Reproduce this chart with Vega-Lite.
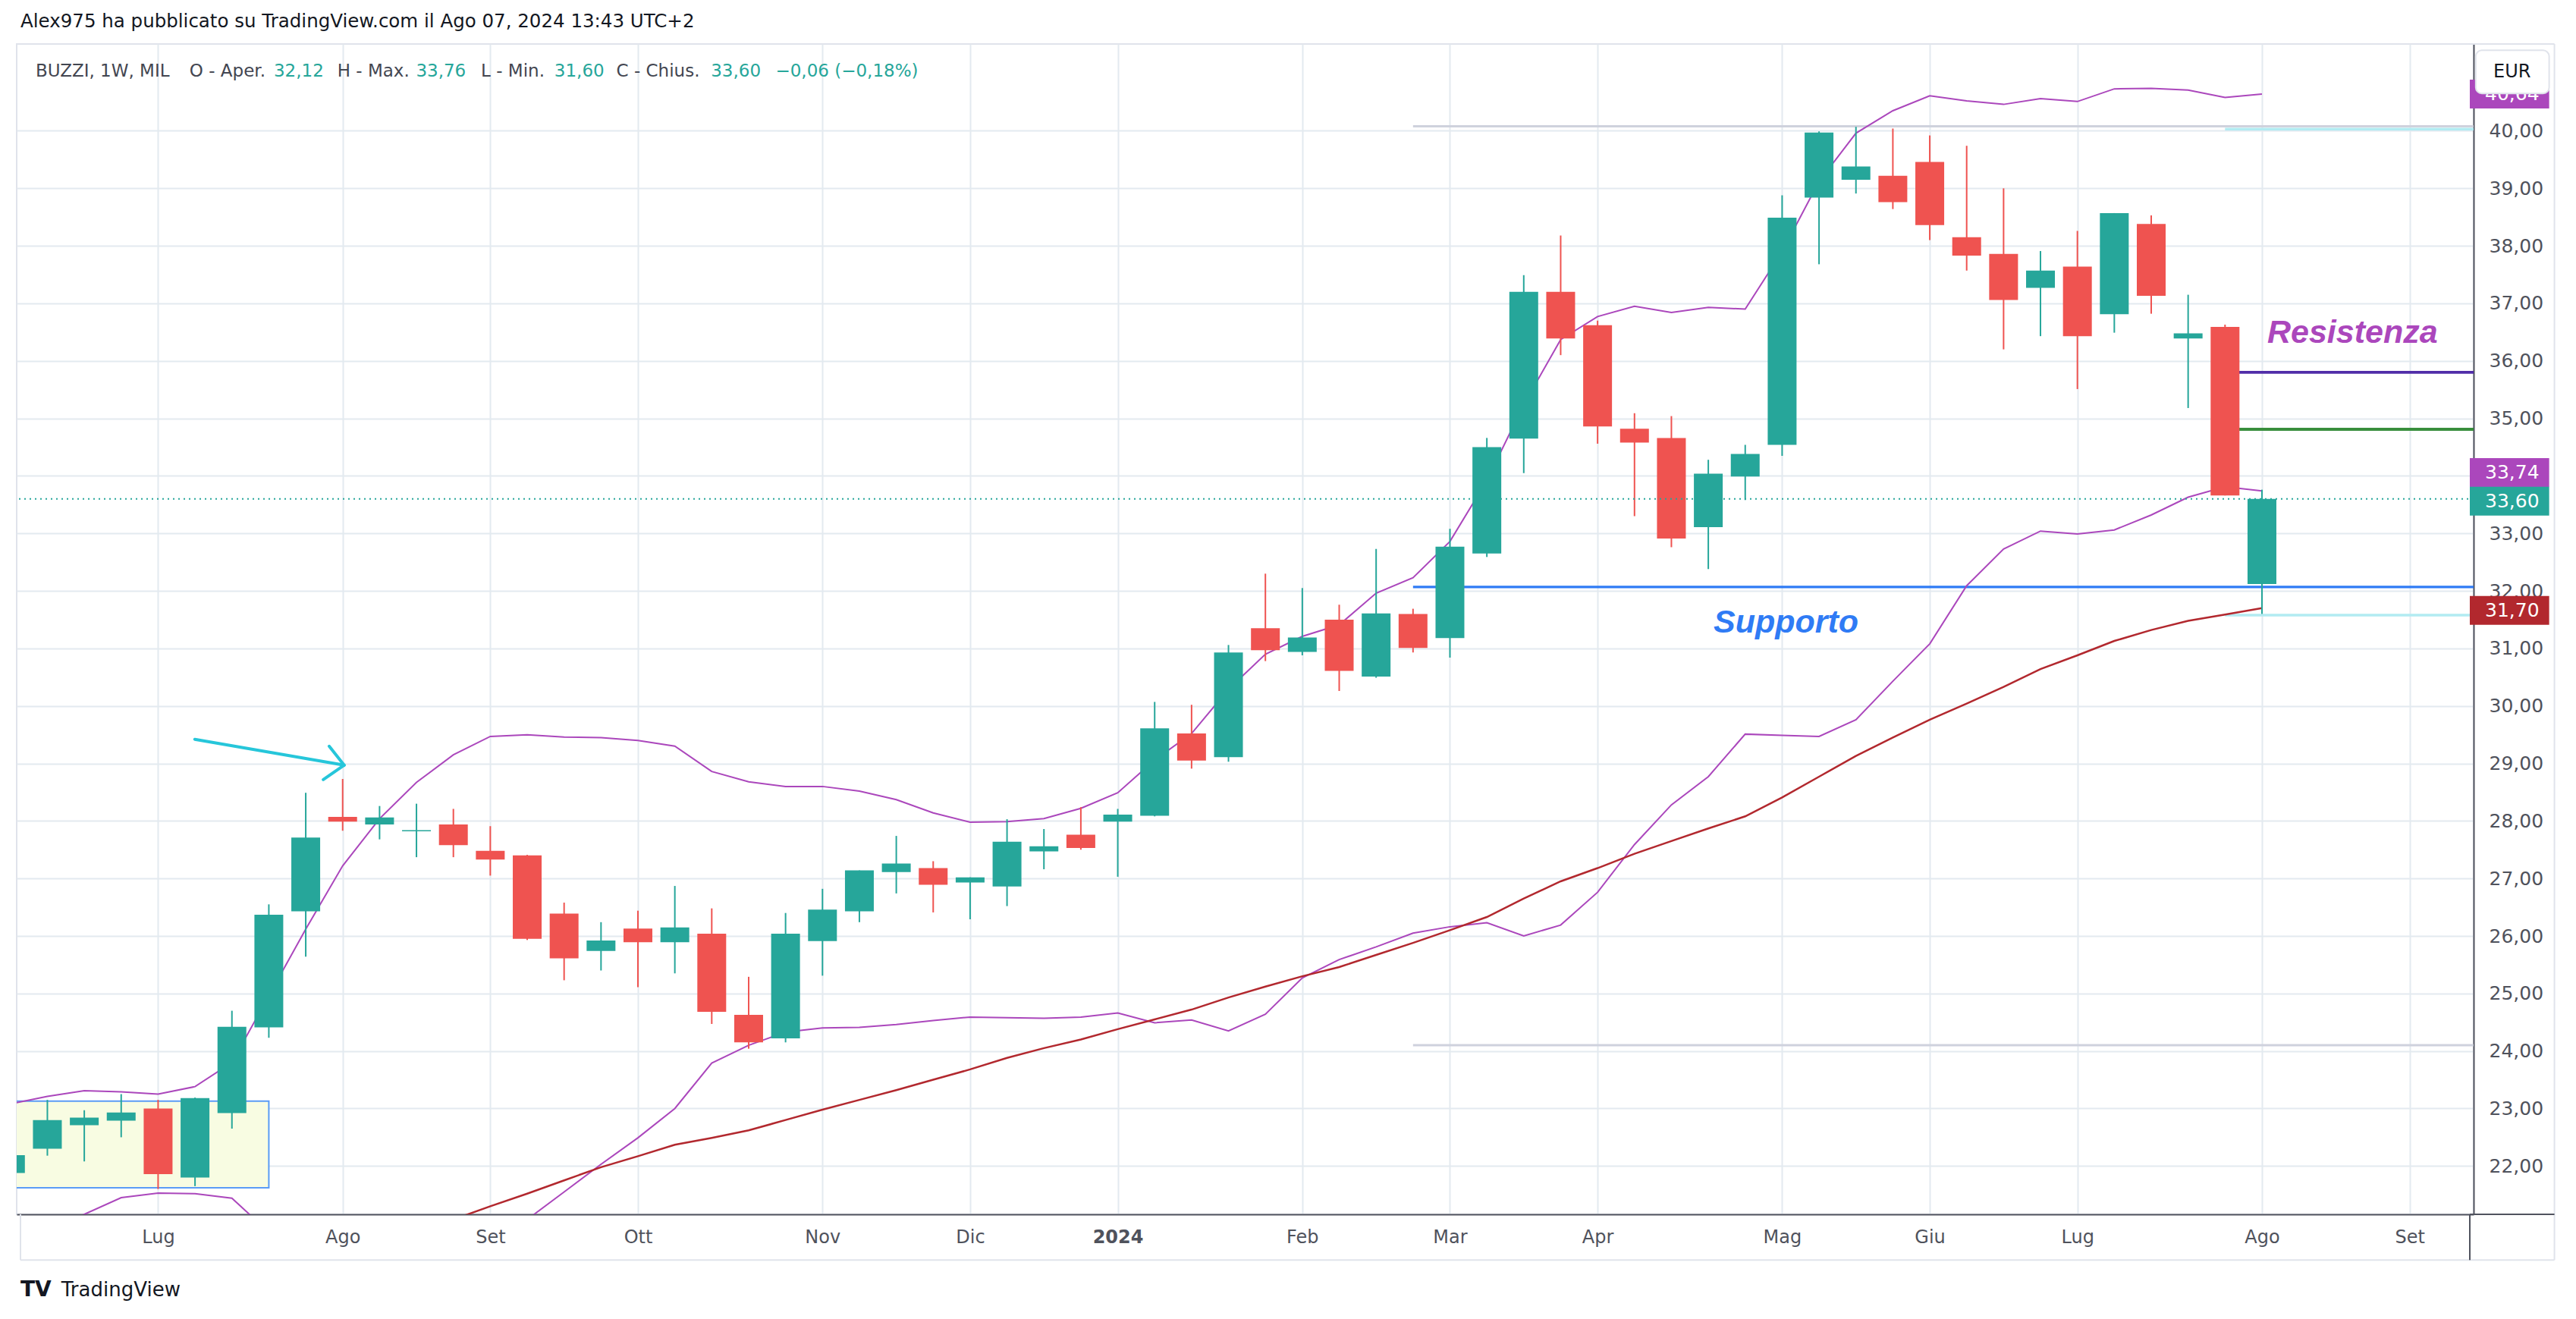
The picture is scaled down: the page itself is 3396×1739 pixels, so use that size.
{
  "$schema": "https://vega.github.io/schema/vega-lite/v6.json",
  "width": 3239,
  "height": 1543,
  "autosize": {"type": "none"},
  "padding": {"left": 22, "top": 58, "right": 135, "bottom": 138},
  "background": "#FFFFFF",
  "config": {
    "view": {"stroke": "#E0E3EB", "strokeWidth": 2},
    "font": "DejaVu Sans",
    "axis": {"grid": true, "gridColor": "#E3EAF0", "gridWidth": 2, "ticks": false, "domainColor": "#50535E", "domainWidth": 2, "labelFont": "DejaVu Sans", "labelColor": "#4F525C", "labelOverlap": false, "labelFlush": false, "labelBound": false}
  },
  "resolve": {"scale": {"color": "independent", "strokeWidth": "independent"}, "axis": {"x": "independent", "y": "independent"}},
  "datasets": {
    "candles": [
      {"date": "2023-06-05", "open": 21.88, "high": 22.25, "low": 21.80, "close": 22.19},
      {"date": "2023-06-12", "open": 22.30, "high": 23.15, "low": 22.18, "close": 22.80},
      {"date": "2023-06-19", "open": 22.71, "high": 22.97, "low": 22.08, "close": 22.84},
      {"date": "2023-06-26", "open": 22.79, "high": 23.25, "low": 22.50, "close": 22.93},
      {"date": "2023-07-03", "open": 23.00, "high": 23.15, "low": 21.60, "close": 21.86},
      {"date": "2023-07-10", "open": 21.80, "high": 23.19, "low": 21.65, "close": 23.18},
      {"date": "2023-07-17", "open": 22.92, "high": 24.70, "low": 22.65, "close": 24.42},
      {"date": "2023-07-24", "open": 24.41, "high": 26.55, "low": 24.23, "close": 26.37},
      {"date": "2023-07-31", "open": 26.43, "high": 28.49, "low": 25.64, "close": 27.71},
      {"date": "2023-08-07", "open": 28.07, "high": 28.73, "low": 27.83, "close": 27.99},
      {"date": "2023-08-14", "open": 27.94, "high": 28.26, "low": 27.68, "close": 28.06},
      {"date": "2023-08-21", "open": 27.82, "high": 28.30, "low": 27.37, "close": 27.84},
      {"date": "2023-08-28", "open": 27.94, "high": 28.21, "low": 27.37, "close": 27.58},
      {"date": "2023-09-04", "open": 27.48, "high": 27.91, "low": 27.05, "close": 27.33},
      {"date": "2023-09-11", "open": 27.40, "high": 27.41, "low": 25.93, "close": 25.95},
      {"date": "2023-09-18", "open": 26.39, "high": 26.58, "low": 25.23, "close": 25.61},
      {"date": "2023-09-25", "open": 25.74, "high": 26.24, "low": 25.40, "close": 25.92},
      {"date": "2023-10-02", "open": 26.13, "high": 26.44, "low": 25.11, "close": 25.89},
      {"date": "2023-10-09", "open": 25.89, "high": 26.87, "low": 25.35, "close": 26.15},
      {"date": "2023-10-16", "open": 26.04, "high": 26.48, "low": 24.47, "close": 24.68},
      {"date": "2023-10-23", "open": 24.63, "high": 25.29, "low": 24.04, "close": 24.15},
      {"date": "2023-10-30", "open": 24.22, "high": 26.40, "low": 24.15, "close": 26.04},
      {"date": "2023-11-06", "open": 25.91, "high": 26.82, "low": 25.31, "close": 26.46},
      {"date": "2023-11-13", "open": 26.43, "high": 27.14, "low": 26.24, "close": 27.14},
      {"date": "2023-11-20", "open": 27.11, "high": 27.74, "low": 26.74, "close": 27.26},
      {"date": "2023-11-27", "open": 27.18, "high": 27.30, "low": 26.41, "close": 26.89},
      {"date": "2023-12-04", "open": 26.93, "high": 27.02, "low": 26.29, "close": 27.02},
      {"date": "2023-12-11", "open": 26.86, "high": 28.03, "low": 26.52, "close": 27.64},
      {"date": "2023-12-18", "open": 27.47, "high": 27.86, "low": 27.16, "close": 27.56},
      {"date": "2023-12-25", "open": 27.76, "high": 28.24, "low": 27.50, "close": 27.53},
      {"date": "2024-01-01", "open": 27.99, "high": 28.21, "low": 27.03, "close": 28.11},
      {"date": "2024-01-08", "open": 28.09, "high": 30.07, "low": 28.08, "close": 29.61},
      {"date": "2024-01-15", "open": 29.52, "high": 30.02, "low": 28.91, "close": 29.05},
      {"date": "2024-01-22", "open": 29.11, "high": 31.06, "low": 29.03, "close": 30.93},
      {"date": "2024-01-29", "open": 31.35, "high": 32.30, "low": 30.78, "close": 30.97},
      {"date": "2024-02-05", "open": 30.94, "high": 32.05, "low": 30.88, "close": 31.19},
      {"date": "2024-02-12", "open": 31.50, "high": 31.76, "low": 30.26, "close": 30.61},
      {"date": "2024-02-19", "open": 30.51, "high": 32.73, "low": 30.49, "close": 31.61},
      {"date": "2024-02-26", "open": 31.60, "high": 31.69, "low": 30.93, "close": 31.01},
      {"date": "2024-03-04", "open": 31.18, "high": 33.08, "low": 30.84, "close": 32.77},
      {"date": "2024-03-11", "open": 32.65, "high": 34.66, "low": 32.59, "close": 34.50},
      {"date": "2024-03-18", "open": 34.65, "high": 37.49, "low": 34.05, "close": 37.20},
      {"date": "2024-03-25", "open": 37.20, "high": 38.18, "low": 36.10, "close": 36.39},
      {"date": "2024-04-01", "open": 36.62, "high": 36.70, "low": 34.56, "close": 34.86},
      {"date": "2024-04-08", "open": 34.82, "high": 35.09, "low": 33.30, "close": 34.58},
      {"date": "2024-04-15", "open": 34.66, "high": 35.04, "low": 32.76, "close": 32.91},
      {"date": "2024-04-22", "open": 33.11, "high": 34.28, "low": 32.38, "close": 34.04},
      {"date": "2024-04-29", "open": 33.99, "high": 34.54, "low": 33.58, "close": 34.38},
      {"date": "2024-05-06", "open": 34.54, "high": 38.88, "low": 34.35, "close": 38.49},
      {"date": "2024-05-13", "open": 38.84, "high": 39.99, "low": 37.68, "close": 39.97},
      {"date": "2024-05-20", "open": 39.15, "high": 40.07, "low": 38.91, "close": 39.38},
      {"date": "2024-05-27", "open": 39.22, "high": 40.04, "low": 38.64, "close": 38.76},
      {"date": "2024-06-03", "open": 39.46, "high": 39.92, "low": 38.10, "close": 38.36},
      {"date": "2024-06-10", "open": 38.15, "high": 39.74, "low": 37.57, "close": 37.83},
      {"date": "2024-06-17", "open": 37.86, "high": 39.00, "low": 36.20, "close": 37.06},
      {"date": "2024-06-24", "open": 37.27, "high": 37.91, "low": 36.43, "close": 37.57},
      {"date": "2024-07-01", "open": 37.64, "high": 38.26, "low": 35.51, "close": 36.43},
      {"date": "2024-07-08", "open": 36.81, "high": 38.57, "low": 36.49, "close": 38.57},
      {"date": "2024-07-15", "open": 38.38, "high": 38.53, "low": 36.82, "close": 37.13},
      {"date": "2024-07-22", "open": 36.39, "high": 37.15, "low": 35.18, "close": 36.48},
      {"date": "2024-07-29", "open": 36.59, "high": 36.63, "low": 33.66, "close": 33.66},
      {"date": "2024-08-05", "open": 32.12, "high": 33.76, "low": 31.60, "close": 33.60}
    ],
    "bands": [
      {"date": "2023-06-05", "upper": 23.08, "lower": 20.60, "ma": null},
      {"date": "2023-06-12", "upper": 23.21, "lower": 20.88, "ma": null},
      {"date": "2023-06-19", "upper": 23.31, "lower": 21.16, "ma": null},
      {"date": "2023-06-26", "upper": 23.29, "lower": 21.45, "ma": null},
      {"date": "2023-07-03", "upper": 23.25, "lower": 21.53, "ma": null},
      {"date": "2023-07-10", "upper": 23.38, "lower": 21.52, "ma": null},
      {"date": "2023-07-17", "upper": 23.80, "lower": 21.44, "ma": null},
      {"date": "2023-07-24", "upper": 24.96, "lower": 20.85, "ma": null},
      {"date": "2023-07-31", "upper": 26.12, "lower": 20.40, "ma": null},
      {"date": "2023-08-07", "upper": 27.22, "lower": 20.00, "ma": 20.40},
      {"date": "2023-08-14", "upper": 28.04, "lower": 19.80, "ma": 20.60},
      {"date": "2023-08-21", "upper": 28.67, "lower": 19.80, "ma": 20.84},
      {"date": "2023-08-28", "upper": 29.15, "lower": 20.00, "ma": 21.07},
      {"date": "2023-09-04", "upper": 29.47, "lower": 20.50, "ma": 21.30},
      {"date": "2023-09-11", "upper": 29.50, "lower": 21.07, "ma": 21.52},
      {"date": "2023-09-18", "upper": 29.46, "lower": 21.55, "ma": 21.75},
      {"date": "2023-09-25", "upper": 29.45, "lower": 22.03, "ma": 21.98},
      {"date": "2023-10-02", "upper": 29.40, "lower": 22.49, "ma": 22.17},
      {"date": "2023-10-09", "upper": 29.30, "lower": 23.00, "ma": 22.37},
      {"date": "2023-10-16", "upper": 28.86, "lower": 23.79, "ma": 22.49},
      {"date": "2023-10-23", "upper": 28.68, "lower": 24.10, "ma": 22.62},
      {"date": "2023-10-30", "upper": 28.60, "lower": 24.33, "ma": 22.80},
      {"date": "2023-11-06", "upper": 28.60, "lower": 24.40, "ma": 22.98},
      {"date": "2023-11-13", "upper": 28.52, "lower": 24.41, "ma": 23.15},
      {"date": "2023-11-20", "upper": 28.37, "lower": 24.46, "ma": 23.32},
      {"date": "2023-11-27", "upper": 28.14, "lower": 24.53, "ma": 23.50},
      {"date": "2023-12-04", "upper": 27.98, "lower": 24.59, "ma": 23.68},
      {"date": "2023-12-11", "upper": 27.99, "lower": 24.58, "ma": 23.88},
      {"date": "2023-12-18", "upper": 28.04, "lower": 24.57, "ma": 24.05},
      {"date": "2023-12-25", "upper": 28.22, "lower": 24.59, "ma": 24.20},
      {"date": "2024-01-01", "upper": 28.49, "lower": 24.66, "ma": 24.38},
      {"date": "2024-01-08", "upper": 29.06, "lower": 24.49, "ma": 24.55},
      {"date": "2024-01-15", "upper": 29.52, "lower": 24.54, "ma": 24.72},
      {"date": "2024-01-22", "upper": 30.29, "lower": 24.35, "ma": 24.93},
      {"date": "2024-01-29", "upper": 30.90, "lower": 24.64, "ma": 25.12},
      {"date": "2024-02-05", "upper": 31.21, "lower": 25.27, "ma": 25.30},
      {"date": "2024-02-12", "upper": 31.41, "lower": 25.59, "ma": 25.46},
      {"date": "2024-02-19", "upper": 31.96, "lower": 25.81, "ma": 25.67},
      {"date": "2024-02-26", "upper": 32.23, "lower": 26.05, "ma": 25.88},
      {"date": "2024-03-04", "upper": 32.86, "lower": 26.16, "ma": 26.10},
      {"date": "2024-03-11", "upper": 33.92, "lower": 26.23, "ma": 26.33},
      {"date": "2024-03-18", "upper": 35.24, "lower": 26.00, "ma": 26.65},
      {"date": "2024-03-25", "upper": 36.37, "lower": 26.19, "ma": 26.95},
      {"date": "2024-04-01", "upper": 36.77, "lower": 26.76, "ma": 27.18},
      {"date": "2024-04-08", "upper": 36.95, "lower": 27.59, "ma": 27.43},
      {"date": "2024-04-15", "upper": 36.84, "lower": 28.28, "ma": 27.65},
      {"date": "2024-04-22", "upper": 36.93, "lower": 28.77, "ma": 27.87},
      {"date": "2024-04-29", "upper": 36.90, "lower": 29.51, "ma": 28.08},
      {"date": "2024-05-06", "upper": 37.90, "lower": 29.49, "ma": 28.41},
      {"date": "2024-05-13", "upper": 39.12, "lower": 29.47, "ma": 28.77},
      {"date": "2024-05-20", "upper": 39.96, "lower": 29.76, "ma": 29.13},
      {"date": "2024-05-27", "upper": 40.35, "lower": 30.43, "ma": 29.45},
      {"date": "2024-06-03", "upper": 40.61, "lower": 31.08, "ma": 29.76},
      {"date": "2024-06-10", "upper": 40.52, "lower": 32.09, "ma": 30.04},
      {"date": "2024-06-17", "upper": 40.46, "lower": 32.73, "ma": 30.33},
      {"date": "2024-06-24", "upper": 40.56, "lower": 33.04, "ma": 30.64},
      {"date": "2024-07-01", "upper": 40.51, "lower": 32.99, "ma": 30.88},
      {"date": "2024-07-08", "upper": 40.73, "lower": 33.06, "ma": 31.13},
      {"date": "2024-07-15", "upper": 40.74, "lower": 33.32, "ma": 31.32},
      {"date": "2024-07-22", "upper": 40.71, "lower": 33.63, "ma": 31.48},
      {"date": "2024-07-29", "upper": 40.58, "lower": 33.81, "ma": 31.59},
      {"date": "2024-08-05", "upper": 40.64, "lower": 33.74, "ma": 31.70}
    ],
    "levels": [
      {"from": "2024-02-26", "to": "2024-10-31", "price": 40.08, "kind": "range"},
      {"from": "2024-02-26", "to": "2024-10-31", "price": 24.10, "kind": "range"},
      {"from": "2024-02-26", "to": "2024-10-31", "price": 32.07, "kind": "support"},
      {"from": "2024-07-29", "to": "2024-10-31", "price": 40.03, "kind": "extreme"},
      {"from": "2024-07-29", "to": "2024-10-31", "price": 31.58, "kind": "extreme"},
      {"from": "2024-07-29", "to": "2024-10-31", "price": 35.80, "kind": "resistance"},
      {"from": "2024-07-29", "to": "2024-10-31", "price": 34.81, "kind": "target"}
    ],
    "arrow": [
      {"x1": "2023-07-09T23:00:00Z", "y1": 29.42, "x2": "2023-08-07T06:43:00Z", "y2": 28.97},
      {"x1": "2023-08-04T10:34:00Z", "y1": 29.30, "x2": "2023-08-07T06:43:00Z", "y2": 28.97},
      {"x1": "2023-08-03T07:46:00Z", "y1": 28.72, "x2": "2023-08-07T06:43:00Z", "y2": 28.97}
    ],
    "tags": [
      {"label": "40,64", "pos": 40.64, "kind": "upper"},
      {"label": "33,74", "pos": 34.06, "kind": "lower"},
      {"label": "33,60", "pos": 33.56, "kind": "close"},
      {"label": "31,70", "pos": 31.66, "kind": "ma"}
    ],
    "frame": [
      {"x1": "2024-09-13T10:05:00Z", "x2": "2024-09-29T11:17:00Z", "y1": 41.51, "y2": 41.51},
      {"x1": "2024-09-29T11:17:00Z", "x2": "2024-09-29T11:17:00Z", "y1": 41.51, "y2": 20.364},
      {"x1": "2023-06-06T21:36:00Z", "x2": "2024-09-29T11:17:00Z", "y1": 20.364, "y2": 20.364},
      {"x1": "2023-06-06T21:36:00Z", "x2": "2023-06-06T21:36:00Z", "y1": 21.16, "y2": 20.364}
    ]
  },
  "layer": [
    {
      "data": {"name": "candles"},
      "mark": {"type": "rule", "opacity": 0},
      "encoding": {
        "x": {"field": "date", "type": "temporal", "scale": {"type": "utc", "nice": false, "domain": [{"year": 2023, "month": 6, "date": 6, "hours": 21, "minutes": 36, "utc": true}, {"year": 2024, "month": 9, "date": 13, "hours": 10, "minutes": 5, "utc": true}]},
          "axis": {
            "orient": "bottom", "title": null,
            "values": [
              {"year": 2023, "month": 7, "date": 3, "utc": true},
              {"year": 2023, "month": 8, "date": 7, "utc": true},
              {"year": 2023, "month": 9, "date": 4, "utc": true},
              {"year": 2023, "month": 10, "date": 2, "utc": true},
              {"year": 2023, "month": 11, "date": 6, "utc": true},
              {"year": 2023, "month": 12, "date": 4, "utc": true},
              {"year": 2024, "month": 1, "date": 1, "utc": true},
              {"year": 2024, "month": 2, "date": 5, "utc": true},
              {"year": 2024, "month": 3, "date": 4, "utc": true},
              {"year": 2024, "month": 4, "date": 1, "utc": true},
              {"year": 2024, "month": 5, "date": 6, "utc": true},
              {"year": 2024, "month": 6, "date": 3, "utc": true},
              {"year": 2024, "month": 7, "date": 1, "utc": true},
              {"year": 2024, "month": 8, "date": 5, "utc": true},
              {"year": 2024, "month": 9, "date": 2, "utc": true}
            ],
            "labelExpr": "utcmonth(datum.value) == 0 ? utcFormat(datum.value, '%Y') : ['Gen','Feb','Mar','Apr','Mag','Giu','Lug','Ago','Set','Ott','Nov','Dic'][utcmonth(datum.value)]",
            "labelFontWeight": {"condition": {"test": "utcmonth(datum.value) == 0", "value": "bold"}, "value": "normal"},
            "labelFontSize": 24, "labelPadding": 30, "labelBaseline": "middle"
          }
        },
        "y": {"field": "low", "type": "quantitative", "scale": {"domain": [21.16, 41.51], "nice": false, "zero": false},
          "axis": {
            "orient": "right", "title": null,
            "values": [22, 23, 24, 25, 26, 27, 28, 29, 30, 31, 32, 33, 34, 35, 36, 37, 38, 39, 40],
            "labelExpr": "replace(format(datum.value, '.2f'), '.', ',')",
            "labelFontSize": 25, "labelPadding": 20, "labelAlign": "left", "labelBaseline": "middle"
          }
        }
      }
    },
    {
      "data": {"name": "frame"},
      "mark": {"type": "rule", "color": "#E0E3EB", "strokeWidth": 2, "clip": false},
      "encoding": {
        "x": {"field": "x1", "type": "temporal", "axis": null, "scale": {"type": "utc", "nice": false, "domain": [{"year": 2023, "month": 6, "date": 6, "hours": 21, "minutes": 36, "utc": true}, {"year": 2024, "month": 9, "date": 13, "hours": 10, "minutes": 5, "utc": true}]}},
        "x2": {"field": "x2"},
        "y": {"field": "y1", "type": "quantitative", "axis": null, "scale": {"domain": [21.16, 41.51], "nice": false, "zero": false}},
        "y2": {"field": "y2"}
      }
    },
    {
      "data": {"values": [{"from": "2023-05-15", "to": "2023-07-24", "low": 21.62, "high": 23.13}]},
      "mark": {"type": "rect", "fill": "#F8FCE2", "stroke": "#5B9CF6", "strokeWidth": 2, "clip": true},
      "encoding": {
        "x": {"field": "from", "type": "temporal", "axis": null, "scale": {"type": "utc", "nice": false, "domain": [{"year": 2023, "month": 6, "date": 6, "hours": 21, "minutes": 36, "utc": true}, {"year": 2024, "month": 9, "date": 13, "hours": 10, "minutes": 5, "utc": true}]}},
        "x2": {"field": "to"},
        "y": {"field": "low", "type": "quantitative", "axis": null, "scale": {"domain": [21.16, 41.51], "nice": false, "zero": false}},
        "y2": {"field": "high"}
      }
    },
    {
      "data": {"name": "levels"},
      "mark": {"type": "rule", "clip": true, "strokeCap": "butt"},
      "encoding": {
        "x": {"field": "from", "type": "temporal", "axis": null, "scale": {"type": "utc", "nice": false, "domain": [{"year": 2023, "month": 6, "date": 6, "hours": 21, "minutes": 36, "utc": true}, {"year": 2024, "month": 9, "date": 13, "hours": 10, "minutes": 5, "utc": true}]}},
        "x2": {"field": "to"},
        "y": {"field": "price", "type": "quantitative", "axis": null, "scale": {"domain": [21.16, 41.51], "nice": false, "zero": false}},
        "color": {"field": "kind", "type": "nominal", "legend": null, "scale": {"domain": ["range", "support", "extreme", "resistance", "target"], "range": ["#CFD2DD", "#2F7BF5", "#B2EBF2", "#512DA8", "#388E3C"]}},
        "strokeWidth": {"field": "kind", "type": "nominal", "legend": null, "scale": {"domain": ["range", "support", "extreme", "resistance", "target"], "range": [3, 4, 3, 3, 3]}}
      }
    },
    {
      "data": {"name": "bands"},
      "mark": {"type": "line", "color": "#AB47BC", "strokeWidth": 2, "clip": true},
      "encoding": {
        "x": {"field": "date", "type": "temporal", "axis": null, "scale": {"type": "utc", "nice": false, "domain": [{"year": 2023, "month": 6, "date": 6, "hours": 21, "minutes": 36, "utc": true}, {"year": 2024, "month": 9, "date": 13, "hours": 10, "minutes": 5, "utc": true}]}},
        "y": {"field": "upper", "type": "quantitative", "axis": null, "scale": {"domain": [21.16, 41.51], "nice": false, "zero": false}}
      }
    },
    {
      "data": {"name": "bands"},
      "mark": {"type": "line", "color": "#AB47BC", "strokeWidth": 2, "clip": true},
      "encoding": {
        "x": {"field": "date", "type": "temporal", "axis": null, "scale": {"type": "utc", "nice": false, "domain": [{"year": 2023, "month": 6, "date": 6, "hours": 21, "minutes": 36, "utc": true}, {"year": 2024, "month": 9, "date": 13, "hours": 10, "minutes": 5, "utc": true}]}},
        "y": {"field": "lower", "type": "quantitative", "axis": null, "scale": {"domain": [21.16, 41.51], "nice": false, "zero": false}}
      }
    },
    {
      "data": {"name": "bands"},
      "mark": {"type": "line", "color": "#B2282E", "strokeWidth": 2.5, "clip": true},
      "encoding": {
        "x": {"field": "date", "type": "temporal", "axis": null, "scale": {"type": "utc", "nice": false, "domain": [{"year": 2023, "month": 6, "date": 6, "hours": 21, "minutes": 36, "utc": true}, {"year": 2024, "month": 9, "date": 13, "hours": 10, "minutes": 5, "utc": true}]}},
        "y": {"field": "ma", "type": "quantitative", "axis": null, "scale": {"domain": [21.16, 41.51], "nice": false, "zero": false}}
      }
    },
    {
      "data": {"name": "candles"},
      "mark": {"type": "rule", "strokeWidth": 2, "clip": true},
      "encoding": {
        "x": {"field": "date", "type": "temporal", "axis": null, "scale": {"type": "utc", "nice": false, "domain": [{"year": 2023, "month": 6, "date": 6, "hours": 21, "minutes": 36, "utc": true}, {"year": 2024, "month": 9, "date": 13, "hours": 10, "minutes": 5, "utc": true}]}},
        "y": {"field": "low", "type": "quantitative", "axis": null, "scale": {"domain": [21.16, 41.51], "nice": false, "zero": false}},
        "y2": {"field": "high"},
        "color": {"condition": {"test": "datum.close >= datum.open", "value": "#26A69A"}, "value": "#EF5350"}
      }
    },
    {
      "data": {"name": "candles"},
      "mark": {"type": "bar", "size": 38, "clip": true},
      "encoding": {
        "x": {"field": "date", "type": "temporal", "axis": null, "scale": {"type": "utc", "nice": false, "domain": [{"year": 2023, "month": 6, "date": 6, "hours": 21, "minutes": 36, "utc": true}, {"year": 2024, "month": 9, "date": 13, "hours": 10, "minutes": 5, "utc": true}]}},
        "y": {"field": "open", "type": "quantitative", "axis": null, "scale": {"domain": [21.16, 41.51], "nice": false, "zero": false}},
        "y2": {"field": "close"},
        "color": {"condition": {"test": "datum.close >= datum.open", "value": "#26A69A"}, "value": "#EF5350"}
      }
    },
    {
      "data": {"values": [{"price": 33.60}]},
      "mark": {"type": "rule", "color": "#26A69A", "strokeWidth": 2, "strokeDash": [2, 5], "clip": true},
      "encoding": {
        "y": {"field": "price", "type": "quantitative", "axis": null, "scale": {"domain": [21.16, 41.51], "nice": false, "zero": false}}
      }
    },
    {
      "data": {"name": "arrow"},
      "mark": {"type": "rule", "color": "#26C6DA", "strokeWidth": 4, "strokeCap": "round", "clip": true},
      "encoding": {
        "x": {"field": "x1", "type": "temporal", "axis": null, "scale": {"type": "utc", "nice": false, "domain": [{"year": 2023, "month": 6, "date": 6, "hours": 21, "minutes": 36, "utc": true}, {"year": 2024, "month": 9, "date": 13, "hours": 10, "minutes": 5, "utc": true}]}},
        "x2": {"field": "x2"},
        "y": {"field": "y1", "type": "quantitative", "axis": null, "scale": {"domain": [21.16, 41.51], "nice": false, "zero": false}},
        "y2": {"field": "y2"}
      }
    },
    {
      "data": {"values": [{"s": "Resistenza"}]},
      "mark": {"type": "text", "align": "left", "baseline": "alphabetic", "font": "Liberation Sans", "fontSize": 43, "fontWeight": "bold", "fontStyle": "italic", "color": "#AB47BC"},
      "encoding": {
        "x": {"datum": {"year": 2024, "month": 8, "date": 6, "utc": true}, "type": "temporal", "axis": null, "scale": {"type": "utc", "nice": false, "domain": [{"year": 2023, "month": 6, "date": 6, "hours": 21, "minutes": 36, "utc": true}, {"year": 2024, "month": 9, "date": 13, "hours": 10, "minutes": 5, "utc": true}]}},
        "y": {"datum": 36.31, "type": "quantitative", "axis": null, "scale": {"domain": [21.16, 41.51], "nice": false, "zero": false}},
        "text": {"field": "s"}
      }
    },
    {
      "data": {"values": [{"s": "Supporto"}]},
      "mark": {"type": "text", "align": "left", "baseline": "alphabetic", "font": "Liberation Sans", "fontSize": 43, "fontWeight": "bold", "fontStyle": "italic", "color": "#2F7BF5"},
      "encoding": {
        "x": {"datum": {"year": 2024, "month": 4, "date": 23, "utc": true}, "type": "temporal", "axis": null, "scale": {"type": "utc", "nice": false, "domain": [{"year": 2023, "month": 6, "date": 6, "hours": 21, "minutes": 36, "utc": true}, {"year": 2024, "month": 9, "date": 13, "hours": 10, "minutes": 5, "utc": true}]}},
        "y": {"datum": 31.27, "type": "quantitative", "axis": null, "scale": {"domain": [21.16, 41.51], "nice": false, "zero": false}},
        "text": {"field": "s"}
      }
    },
    {
      "data": {"name": "tags"},
      "mark": {"type": "rule", "strokeWidth": 38, "strokeCap": "butt", "clip": false},
      "encoding": {
        "x": {"datum": {"year": 2024, "month": 9, "date": 13, "hours": 10, "minutes": 5, "utc": true}, "type": "temporal", "axis": null, "scale": {"type": "utc", "nice": false, "domain": [{"year": 2023, "month": 6, "date": 6, "hours": 21, "minutes": 36, "utc": true}, {"year": 2024, "month": 9, "date": 13, "hours": 10, "minutes": 5, "utc": true}]}},
        "x2": {"datum": {"year": 2024, "month": 9, "date": 28, "hours": 11, "minutes": 17, "utc": true}},
        "y": {"field": "pos", "type": "quantitative", "axis": null, "scale": {"domain": [21.16, 41.51], "nice": false, "zero": false}},
        "color": {"field": "kind", "type": "nominal", "legend": null, "scale": {"domain": ["upper", "lower", "close", "ma"], "range": ["#AB47BC", "#AB47BC", "#26A69A", "#B2282E"]}}
      }
    },
    {
      "data": {"name": "tags"},
      "mark": {"type": "text", "align": "left", "baseline": "middle", "font": "DejaVu Sans", "fontSize": 25, "color": "#FFFFFF", "clip": false},
      "encoding": {
        "x": {"datum": {"year": 2024, "month": 9, "date": 16, "hours": 7, "minutes": 12, "utc": true}, "type": "temporal", "axis": null, "scale": {"type": "utc", "nice": false, "domain": [{"year": 2023, "month": 6, "date": 6, "hours": 21, "minutes": 36, "utc": true}, {"year": 2024, "month": 9, "date": 13, "hours": 10, "minutes": 5, "utc": true}]}},
        "y": {"field": "pos", "type": "quantitative", "axis": null, "scale": {"domain": [21.16, 41.51], "nice": false, "zero": false}},
        "text": {"field": "label"}
      }
    },
    {
      "data": {"values": [{"s": "EUR"}]},
      "mark": {"type": "rect", "fill": "#FFFFFF", "stroke": "#E0E3EB", "strokeWidth": 2, "cornerRadius": 8, "clip": false},
      "encoding": {
        "x": {"datum": {"year": 2024, "month": 9, "date": 14, "hours": 13, "minutes": 12, "utc": true}, "type": "temporal", "axis": null, "scale": {"type": "utc", "nice": false, "domain": [{"year": 2023, "month": 6, "date": 6, "hours": 21, "minutes": 36, "utc": true}, {"year": 2024, "month": 9, "date": 13, "hours": 10, "minutes": 5, "utc": true}]}},
        "x2": {"datum": {"year": 2024, "month": 9, "date": 28, "hours": 11, "minutes": 17, "utc": true}},
        "y": {"datum": 41.40, "type": "quantitative", "axis": null, "scale": {"domain": [21.16, 41.51], "nice": false, "zero": false}},
        "y2": {"datum": 40.65}
      }
    },
    {
      "data": {"values": [{"s": "EUR"}]},
      "mark": {"type": "text", "align": "center", "baseline": "middle", "font": "DejaVu Sans", "fontSize": 24, "color": "#131722", "clip": false},
      "encoding": {
        "x": {"datum": {"year": 2024, "month": 9, "date": 21, "hours": 10, "minutes": 34, "utc": true}, "type": "temporal", "axis": null, "scale": {"type": "utc", "nice": false, "domain": [{"year": 2023, "month": 6, "date": 6, "hours": 21, "minutes": 36, "utc": true}, {"year": 2024, "month": 9, "date": 13, "hours": 10, "minutes": 5, "utc": true}]}},
        "y": {"datum": 41.02, "type": "quantitative", "axis": null, "scale": {"domain": [21.16, 41.51], "nice": false, "zero": false}},
        "text": {"field": "s"}
      }
    },
    {
      "data": {"values": [{"s": "Alex975 ha pubblicato su TradingView.com il Ago 07, 2024 13:43 UTC+2"}]},
      "mark": {"type": "text", "align": "left", "baseline": "middle", "font": "DejaVu Sans", "fontSize": 24.5, "color": "#131722", "clip": false},
      "encoding": {
        "x": {"datum": {"year": 2023, "month": 6, "date": 6, "hours": 21, "minutes": 36, "utc": true}, "type": "temporal", "axis": null, "scale": {"type": "utc", "nice": false, "domain": [{"year": 2023, "month": 6, "date": 6, "hours": 21, "minutes": 36, "utc": true}, {"year": 2024, "month": 9, "date": 13, "hours": 10, "minutes": 5, "utc": true}]}},
        "y": {"datum": 41.887, "type": "quantitative", "axis": null, "scale": {"domain": [21.16, 41.51], "nice": false, "zero": false}},
        "text": {"field": "s"}
      }
    },
    {
      "data": {"values": [{"s": "BUZZI, 1W, MIL"}]},
      "mark": {"type": "text", "align": "left", "baseline": "middle", "font": "DejaVu Sans", "fontSize": 23, "color": "#434651", "clip": false},
      "encoding": {
        "x": {"datum": {"year": 2023, "month": 6, "date": 9, "hours": 18, "minutes": 23, "utc": true}, "type": "temporal", "axis": null, "scale": {"type": "utc", "nice": false, "domain": [{"year": 2023, "month": 6, "date": 6, "hours": 21, "minutes": 36, "utc": true}, {"year": 2024, "month": 9, "date": 13, "hours": 10, "minutes": 5, "utc": true}]}},
        "y": {"datum": 41.04, "type": "quantitative", "axis": null, "scale": {"domain": [21.16, 41.51], "nice": false, "zero": false}},
        "text": {"field": "s"}
      }
    },
    {
      "data": {"values": [{"s": "O - Aper."}]},
      "mark": {"type": "text", "align": "left", "baseline": "middle", "font": "DejaVu Sans", "fontSize": 23, "color": "#434651", "clip": false},
      "encoding": {
        "x": {"datum": {"year": 2023, "month": 7, "date": 8, "hours": 22, "minutes": 51, "utc": true}, "type": "temporal", "axis": null, "scale": {"type": "utc", "nice": false, "domain": [{"year": 2023, "month": 6, "date": 6, "hours": 21, "minutes": 36, "utc": true}, {"year": 2024, "month": 9, "date": 13, "hours": 10, "minutes": 5, "utc": true}]}},
        "y": {"datum": 41.04, "type": "quantitative", "axis": null, "scale": {"domain": [21.16, 41.51], "nice": false, "zero": false}},
        "text": {"field": "s"}
      }
    },
    {
      "data": {"values": [{"s": "32,12"}]},
      "mark": {"type": "text", "align": "left", "baseline": "middle", "font": "DejaVu Sans", "fontSize": 23, "color": "#26A69A", "clip": false},
      "encoding": {
        "x": {"datum": {"year": 2023, "month": 7, "date": 24, "hours": 22, "minutes": 38, "utc": true}, "type": "temporal", "axis": null, "scale": {"type": "utc", "nice": false, "domain": [{"year": 2023, "month": 6, "date": 6, "hours": 21, "minutes": 36, "utc": true}, {"year": 2024, "month": 9, "date": 13, "hours": 10, "minutes": 5, "utc": true}]}},
        "y": {"datum": 41.04, "type": "quantitative", "axis": null, "scale": {"domain": [21.16, 41.51], "nice": false, "zero": false}},
        "text": {"field": "s"}
      }
    },
    {
      "data": {"values": [{"s": "H - Max."}]},
      "mark": {"type": "text", "align": "left", "baseline": "middle", "font": "DejaVu Sans", "fontSize": 23, "color": "#434651", "clip": false},
      "encoding": {
        "x": {"datum": {"year": 2023, "month": 8, "date": 5, "hours": 23, "minutes": 45, "utc": true}, "type": "temporal", "axis": null, "scale": {"type": "utc", "nice": false, "domain": [{"year": 2023, "month": 6, "date": 6, "hours": 21, "minutes": 36, "utc": true}, {"year": 2024, "month": 9, "date": 13, "hours": 10, "minutes": 5, "utc": true}]}},
        "y": {"datum": 41.04, "type": "quantitative", "axis": null, "scale": {"domain": [21.16, 41.51], "nice": false, "zero": false}},
        "text": {"field": "s"}
      }
    },
    {
      "data": {"values": [{"s": "33,76"}]},
      "mark": {"type": "text", "align": "left", "baseline": "middle", "font": "DejaVu Sans", "fontSize": 23, "color": "#26A69A", "clip": false},
      "encoding": {
        "x": {"datum": {"year": 2023, "month": 8, "date": 20, "hours": 21, "minutes": 44, "utc": true}, "type": "temporal", "axis": null, "scale": {"type": "utc", "nice": false, "domain": [{"year": 2023, "month": 6, "date": 6, "hours": 21, "minutes": 36, "utc": true}, {"year": 2024, "month": 9, "date": 13, "hours": 10, "minutes": 5, "utc": true}]}},
        "y": {"datum": 41.04, "type": "quantitative", "axis": null, "scale": {"domain": [21.16, 41.51], "nice": false, "zero": false}},
        "text": {"field": "s"}
      }
    },
    {
      "data": {"values": [{"s": "L - Min."}]},
      "mark": {"type": "text", "align": "left", "baseline": "middle", "font": "DejaVu Sans", "fontSize": 23, "color": "#434651", "clip": false},
      "encoding": {
        "x": {"datum": {"year": 2023, "month": 9, "date": 2, "hours": 5, "minutes": 46, "utc": true}, "type": "temporal", "axis": null, "scale": {"type": "utc", "nice": false, "domain": [{"year": 2023, "month": 6, "date": 6, "hours": 21, "minutes": 36, "utc": true}, {"year": 2024, "month": 9, "date": 13, "hours": 10, "minutes": 5, "utc": true}]}},
        "y": {"datum": 41.04, "type": "quantitative", "axis": null, "scale": {"domain": [21.16, 41.51], "nice": false, "zero": false}},
        "text": {"field": "s"}
      }
    },
    {
      "data": {"values": [{"s": "31,60"}]},
      "mark": {"type": "text", "align": "left", "baseline": "middle", "font": "DejaVu Sans", "fontSize": 23, "color": "#26A69A", "clip": false},
      "encoding": {
        "x": {"datum": {"year": 2023, "month": 9, "date": 16, "hours": 3, "minutes": 36, "utc": true}, "type": "temporal", "axis": null, "scale": {"type": "utc", "nice": false, "domain": [{"year": 2023, "month": 6, "date": 6, "hours": 21, "minutes": 36, "utc": true}, {"year": 2024, "month": 9, "date": 13, "hours": 10, "minutes": 5, "utc": true}]}},
        "y": {"datum": 41.04, "type": "quantitative", "axis": null, "scale": {"domain": [21.16, 41.51], "nice": false, "zero": false}},
        "text": {"field": "s"}
      }
    },
    {
      "data": {"values": [{"s": "C - Chius."}]},
      "mark": {"type": "text", "align": "left", "baseline": "middle", "font": "DejaVu Sans", "fontSize": 23, "color": "#434651", "clip": false},
      "encoding": {
        "x": {"datum": {"year": 2023, "month": 9, "date": 27, "hours": 21, "minutes": 50, "utc": true}, "type": "temporal", "axis": null, "scale": {"type": "utc", "nice": false, "domain": [{"year": 2023, "month": 6, "date": 6, "hours": 21, "minutes": 36, "utc": true}, {"year": 2024, "month": 9, "date": 13, "hours": 10, "minutes": 5, "utc": true}]}},
        "y": {"datum": 41.04, "type": "quantitative", "axis": null, "scale": {"domain": [21.16, 41.51], "nice": false, "zero": false}},
        "text": {"field": "s"}
      }
    },
    {
      "data": {"values": [{"s": "33,60"}]},
      "mark": {"type": "text", "align": "left", "baseline": "middle", "font": "DejaVu Sans", "fontSize": 23, "color": "#26A69A", "clip": false},
      "encoding": {
        "x": {"datum": {"year": 2023, "month": 10, "date": 15, "hours": 20, "minutes": 10, "utc": true}, "type": "temporal", "axis": null, "scale": {"type": "utc", "nice": false, "domain": [{"year": 2023, "month": 6, "date": 6, "hours": 21, "minutes": 36, "utc": true}, {"year": 2024, "month": 9, "date": 13, "hours": 10, "minutes": 5, "utc": true}]}},
        "y": {"datum": 41.04, "type": "quantitative", "axis": null, "scale": {"domain": [21.16, 41.51], "nice": false, "zero": false}},
        "text": {"field": "s"}
      }
    },
    {
      "data": {"values": [{"s": "−0,06 (−0,18%)"}]},
      "mark": {"type": "text", "align": "left", "baseline": "middle", "font": "DejaVu Sans", "fontSize": 23, "color": "#26A69A", "clip": false},
      "encoding": {
        "x": {"datum": {"year": 2023, "month": 10, "date": 28, "hours": 2, "minutes": 24, "utc": true}, "type": "temporal", "axis": null, "scale": {"type": "utc", "nice": false, "domain": [{"year": 2023, "month": 6, "date": 6, "hours": 21, "minutes": 36, "utc": true}, {"year": 2024, "month": 9, "date": 13, "hours": 10, "minutes": 5, "utc": true}]}},
        "y": {"datum": 41.04, "type": "quantitative", "axis": null, "scale": {"domain": [21.16, 41.51], "nice": false, "zero": false}},
        "text": {"field": "s"}
      }
    },
    {
      "data": {"values": [{"s": "TradingView"}]},
      "mark": {"type": "text", "align": "left", "baseline": "middle", "font": "DejaVu Sans", "fontSize": 26, "color": "#131722", "clip": false},
      "encoding": {
        "x": {"datum": {"year": 2023, "month": 6, "date": 14, "hours": 15, "minutes": 22, "utc": true}, "type": "temporal", "axis": null, "scale": {"type": "utc", "nice": false, "domain": [{"year": 2023, "month": 6, "date": 6, "hours": 21, "minutes": 36, "utc": true}, {"year": 2024, "month": 9, "date": 13, "hours": 10, "minutes": 5, "utc": true}]}},
        "y": {"datum": 19.836, "type": "quantitative", "axis": null, "scale": {"domain": [21.16, 41.51], "nice": false, "zero": false}},
        "text": {"field": "s"}
      }
    },
    {
      "data": {"values": [{"s": "TV"}]},
      "mark": {"type": "text", "align": "left", "baseline": "middle", "font": "DejaVu Sans", "fontSize": 28, "fontWeight": "bold", "color": "#131722", "clip": false},
      "encoding": {
        "x": {"datum": {"year": 2023, "month": 6, "date": 6, "hours": 21, "minutes": 36, "utc": true}, "type": "temporal", "axis": null, "scale": {"type": "utc", "nice": false, "domain": [{"year": 2023, "month": 6, "date": 6, "hours": 21, "minutes": 36, "utc": true}, {"year": 2024, "month": 9, "date": 13, "hours": 10, "minutes": 5, "utc": true}]}},
        "y": {"datum": 19.836, "type": "quantitative", "axis": null, "scale": {"domain": [21.16, 41.51], "nice": false, "zero": false}},
        "text": {"field": "s"}
      }
    },
    {
      "data": {"values": [{"s": "axis"}]},
      "mark": {"type": "rule", "color": "#50535E", "strokeWidth": 2, "clip": false},
      "encoding": {
        "x": {"datum": {"year": 2024, "month": 9, "date": 13, "hours": 10, "minutes": 5, "utc": true}, "type": "temporal", "axis": null, "scale": {"type": "utc", "nice": false, "domain": [{"year": 2023, "month": 6, "date": 6, "hours": 21, "minutes": 36, "utc": true}, {"year": 2024, "month": 9, "date": 13, "hours": 10, "minutes": 5, "utc": true}]}},
        "x2": {"datum": {"year": 2024, "month": 9, "date": 29, "hours": 11, "minutes": 17, "utc": true}},
        "y": {"datum": 21.16, "type": "quantitative", "axis": null, "scale": {"domain": [21.16, 41.51], "nice": false, "zero": false}}
      }
    },
    {
      "data": {"values": [{"s": "axis"}]},
      "mark": {"type": "rule", "color": "#50535E", "strokeWidth": 2, "clip": false},
      "encoding": {
        "x": {"datum": {"year": 2024, "month": 9, "date": 13, "hours": 10, "minutes": 5, "utc": true}, "type": "temporal", "axis": null, "scale": {"type": "utc", "nice": false, "domain": [{"year": 2023, "month": 6, "date": 6, "hours": 21, "minutes": 36, "utc": true}, {"year": 2024, "month": 9, "date": 13, "hours": 10, "minutes": 5, "utc": true}]}},
        "y": {"datum": 21.16, "type": "quantitative", "axis": null, "scale": {"domain": [21.16, 41.51], "nice": false, "zero": false}},
        "y2": {"datum": 20.364}
      }
    }
  ]
}
